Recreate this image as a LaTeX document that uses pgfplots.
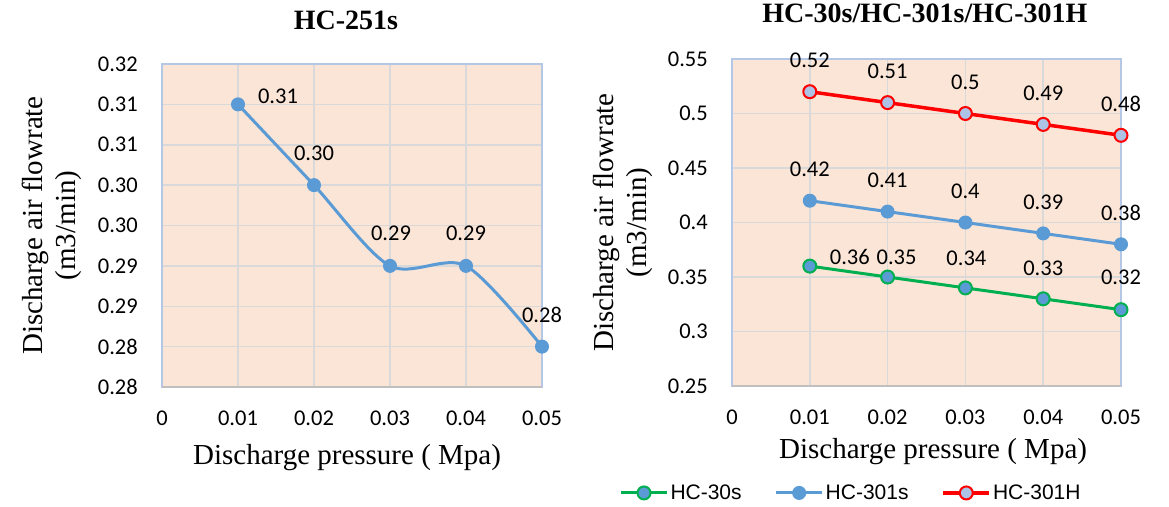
\documentclass[border=0pt]{standalone}
\usepackage{pgfplots}
\pgfplotsset{compat=1.18}
\usepackage{pgfplotstable}
\usepackage{fontspec}
\setmainfont{Liberation Serif}
\newfontfamily\calib{Carlito}
\newfontfamily\arialf{Liberation Sans}
\definecolor{peach}{HTML}{FBE5D6}
\definecolor{xblue}{HTML}{5B9BD5}
\definecolor{xgreen}{HTML}{00B050}
\definecolor{xred}{HTML}{FF0000}
\definecolor{xlight}{HTML}{ADC3E6}
\definecolor{gridc}{HTML}{D9D9D9}
\definecolor{framec}{HTML}{B4C7E7}
\definecolor{axgray}{HTML}{BFBFBF}

\pgfplotstableread{
x y lab dx dy
0.01 0.31 0.31 40 8
0.02 0.30 0.30 0 32
0.03 0.29 0.29 1 33
0.04 0.29 0.29 0 33
0.05 0.28 0.28 0 32
}\tableleft
\pgfplotstableread{
x y lab dx dy
0.01 0.36 0.36 40 9
0.02 0.35 0.35 9 20
0.03 0.34 0.34 1 30
0.04 0.33 0.33 0 31
0.05 0.32 0.32 0 32
}\tablegreen
\pgfplotstableread{
x y lab dx dy
0.01 0.42 0.42 0 31
0.02 0.41 0.41 0 31
0.03 0.40 0.4 0 31
0.04 0.39 0.39 0 31
0.05 0.38 0.38 0 31
}\tableblue
\pgfplotstableread{
x y lab dx dy
0.01 0.52 0.52 0 31
0.02 0.51 0.51 0 31
0.03 0.50 0.5 0 31
0.04 0.49 0.49 0 31
0.05 0.48 0.48 0 31
}\tablered

\pgfplotsset{
  mychart/.style={
    scale only axis,
    clip=false,
    scaled x ticks=false,
    scaled y ticks=false,
    axis background/.style={fill=peach},
    axis line style={color=framec, line width=1.5pt},
    grid=major,
    major grid style={color=gridc, line width=1.5pt},
    major tick length=0pt,
    xmin=0, xmax=0.05,
    xtick={0,0.01,0.02,0.03,0.04,0.05},
    xticklabels={0,0.01,0.02,0.03,0.04,0.05},
    ticklabel style={font=\calib\fontsize{22.5}{26}\selectfont},
    yticklabel style={anchor=east, inner sep=0pt, xshift=-24pt},
    xticklabel style={anchor=north, inner sep=0pt, yshift=-24pt},
    label style={font=\fontsize{29}{33}\selectfont},
    title style={font=\bfseries\fontsize{28}{32}\selectfont, anchor=center},
    ylabel style={align=center, rotate=0, anchor=center},
    nodes near coords,
    point meta=explicit symbolic,
    visualization depends on={\thisrow{dx} \as \labdx},
    visualization depends on={\thisrow{dy} \as \labdy},
    every node near coord/.append style={anchor=center, xshift=\labdx pt, yshift=\labdy pt, font=\calib\fontsize{22.5}{26}\selectfont, text=black},
  }
}

\begin{document}
\begin{tikzpicture}
\useasboundingbox (0,0) rectangle (1169pt,-506pt);
% Left chart
\begin{axis}[mychart,
  at={(162pt,-387pt)}, anchor=south west,
  width=380pt, height=323pt,
  ymin=0.275, ymax=0.315,
  ytick={0.275,0.28,0.285,0.29,0.295,0.30,0.305,0.31,0.315},
  yticklabels={0.28,0.28,0.29,0.29,0.30,0.30,0.31,0.31,0.32},
  title={HC-251s},
  title style={at={(axis description cs:0.484,1.115)}},
  xlabel={Discharge pressure ( Mpa)},
  xlabel style={at={(axis description cs:0.487,-0.217)}, anchor=center},
  ylabel={Discharge air flowrate\\(m3/min)},
  ylabel style={at={(axis description cs:-0.291,0.5)}},
]
\addplot[color=xblue, line width=3pt, smooth, tension=0.5, mark=*, mark size=6.5pt,
  mark options={fill=xblue, draw=xblue, line width=1pt}]
  table[x=x, y=y, meta=lab] {\tableleft};
\draw[axgray, line width=1.5pt] (rel axis cs:0,0) -- (rel axis cs:1,0);
\end{axis}
% Right chart
\begin{axis}[mychart,
  at={(732pt,-386pt)}, anchor=south west,
  width=389pt, height=327pt,
  ymin=0.25, ymax=0.55,
  ytick={0.25,0.30,0.35,0.40,0.45,0.50,0.55},
  yticklabels={0.25,0.3,0.35,0.4,0.45,0.5,0.55},
  title={HC-30s/HC-301s/HC-301H},
  title style={at={(axis description cs:0.496,1.122)}},
  xlabel={Discharge pressure ( Mpa)},
  xlabel style={at={(axis description cs:0.517,-0.202)}, anchor=center},
  ylabel={Discharge air flowrate\\(m3/min)},
  ylabel style={at={(axis description cs:-0.280,0.5)}},
  legend columns=3,
  legend style={at={(axis description cs:0.306,-0.327)}, anchor=center,
    draw=none, fill=none, font=\arialf\fontsize{21}{24}\selectfont,
    /tikz/every even column/.append style={column sep=31pt},
    /tikz/every odd column/.append style={column sep=0pt}},
  legend cell align=left,
  legend image code/.code={\draw[mark repeat=2,mark phase=2] plot coordinates {(0pt,0pt) (23pt,0pt) (46pt,0pt)};},
]
\addplot[color=xgreen, line width=3pt, mark=*, mark size=6.5pt,
  mark options={fill=xblue, draw=xgreen, line width=2pt}]
  table[x=x, y=y, meta=lab] {\tablegreen};
\addlegendentry{HC-30s}
\addplot[color=xblue, line width=3pt, mark=*, mark size=6.5pt,
  mark options={fill=xblue, draw=xblue, line width=1pt}]
  table[x=x, y=y, meta=lab] {\tableblue};
\addlegendentry{HC-301s}
\addplot[color=xred, line width=3.5pt, mark=*, mark size=6.5pt,
  mark options={fill=xlight, draw=xred, line width=2pt}]
  table[x=x, y=y, meta=lab] {\tablered};
\addlegendentry{HC-301H}
\draw[axgray, line width=1.5pt] (rel axis cs:0,0) -- (rel axis cs:1,0);
\end{axis}
\end{tikzpicture}
\end{document}
